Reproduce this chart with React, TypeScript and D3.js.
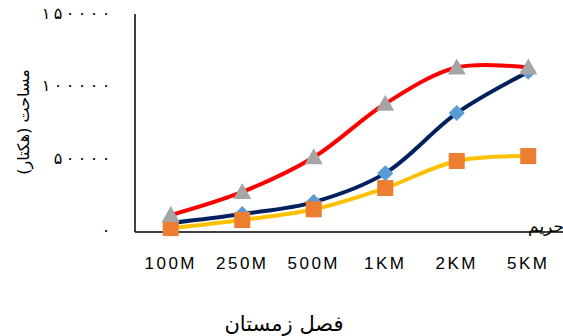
import * as d3 from "d3";

const categories = ["100M", "250M", "500M", "1KM", "2KM", "5KM"];
const redValues = [11000, 27000, 51000, 88000, 113000, 113000];
const navyValues = [5500, 11700, 20000, 40000, 81500, 110000];
const yellowValues = [2000, 7600, 15000, 29700, 48400, 51800];
const yTicks = [0, 50000, 100000, 150000];

const toPersian = (n: number) =>
  String(n).replace(/\d/g, (d) => "۰۱۲۳۴۵۶۷۸۹"[+d]);

export default function App() {
  const width = 563;
  const height = 336;
  const left = 135;

  const x = d3.scaleBand().domain(categories).range([left, left + 6 * 71.5]);
  const y = d3.scaleLinear().domain([0, 150000]).range([231, 14]);
  const cx = (c: string) => (x(c) as number) + x.bandwidth() / 2;

  const line = d3
    .line<number>()
    .x((_, i) => cx(categories[i]))
    .y((d) => y(d))
    .curve(d3.curveCatmullRom.alpha(0.5));

  const series = [
    { values: navyValues, stroke: "#002060", marker: "diamond", fill: "#5B9BD5" },
    { values: yellowValues, stroke: "#FFC000", marker: "square", fill: "#ED7D31" },
    { values: redValues, stroke: "#FF0000", marker: "triangle", fill: "#A5A5A5" },
  ];

  const marker = (kind: string, px: number, py: number, fill: string, key: number) => {
    if (kind === "square")
      return <rect key={key} x={px - 8} y={py - 8} width={16} height={16} fill={fill} />;
    if (kind === "diamond")
      return (
        <path key={key} d={`M${px},${py - 8}L${px + 8},${py}L${px},${py + 8}L${px - 8},${py}Z`} fill={fill} />
      );
    return (
      <path key={key} d={`M${px},${py - 9}L${px + 9},${py + 7}L${px - 9},${py + 7}Z`} fill={fill} />
    );
  };

  // Persian digits spaced out one by one (letter-spacing is ignored for Arabic script)
  const tickLabel = (t: number) => {
    const chars = toPersian(t).split("");
    return chars.map((ch, k) => (
      <text
        key={k}
        x={106 - (chars.length - 1 - k) * 12}
        y={y(t) + 5}
        textAnchor="middle"
        fontSize={16}
        fontFamily="DejaVu Sans, sans-serif"
      >
        {ch}
      </text>
    ));
  };

  return (
    <svg width={width} height={height} style={{ position: "absolute", left: 0, top: 0 }}>
      {yTicks.map((t) => (
        <g key={t}>{tickLabel(t)}</g>
      ))}
      <text
        transform="translate(29,122) rotate(-90)"
        textAnchor="middle"
        fontSize={16}
        fontFamily="DejaVu Sans, sans-serif"
        direction="rtl"
      >
        مساحت (هکتار)
      </text>
      <line x1={left} x2={left} y1={14} y2={232} stroke="#000" strokeWidth={1.5} />
      <line x1={left} x2={563} y1={232} y2={232} stroke="#000" strokeWidth={1.5} />
      {series.map((s, si) => (
        <g key={si}>
          <path d={line(s.values) || ""} fill="none" stroke={s.stroke} strokeWidth={4} />
          {s.values.map((v, i) => marker(s.marker, cx(categories[i]), y(v), s.fill, i))}
        </g>
      ))}
      <text x={564} y={232} textAnchor="end" fontSize={17} fontFamily="DejaVu Sans, sans-serif">
        حریم
      </text>
      {categories.map((c) => (
        <text
          key={c}
          x={cx(c)}
          y={269}
          textAnchor="middle"
          fontSize={17}
          letterSpacing={2.5}
          fontFamily="Liberation Sans, Arial, sans-serif"
        >
          {c}
        </text>
      ))}
      <text x={284} y={331} textAnchor="middle" fontSize={21} fontFamily="DejaVu Sans, sans-serif">
        فصل زمستان
      </text>
    </svg>
  );
}
